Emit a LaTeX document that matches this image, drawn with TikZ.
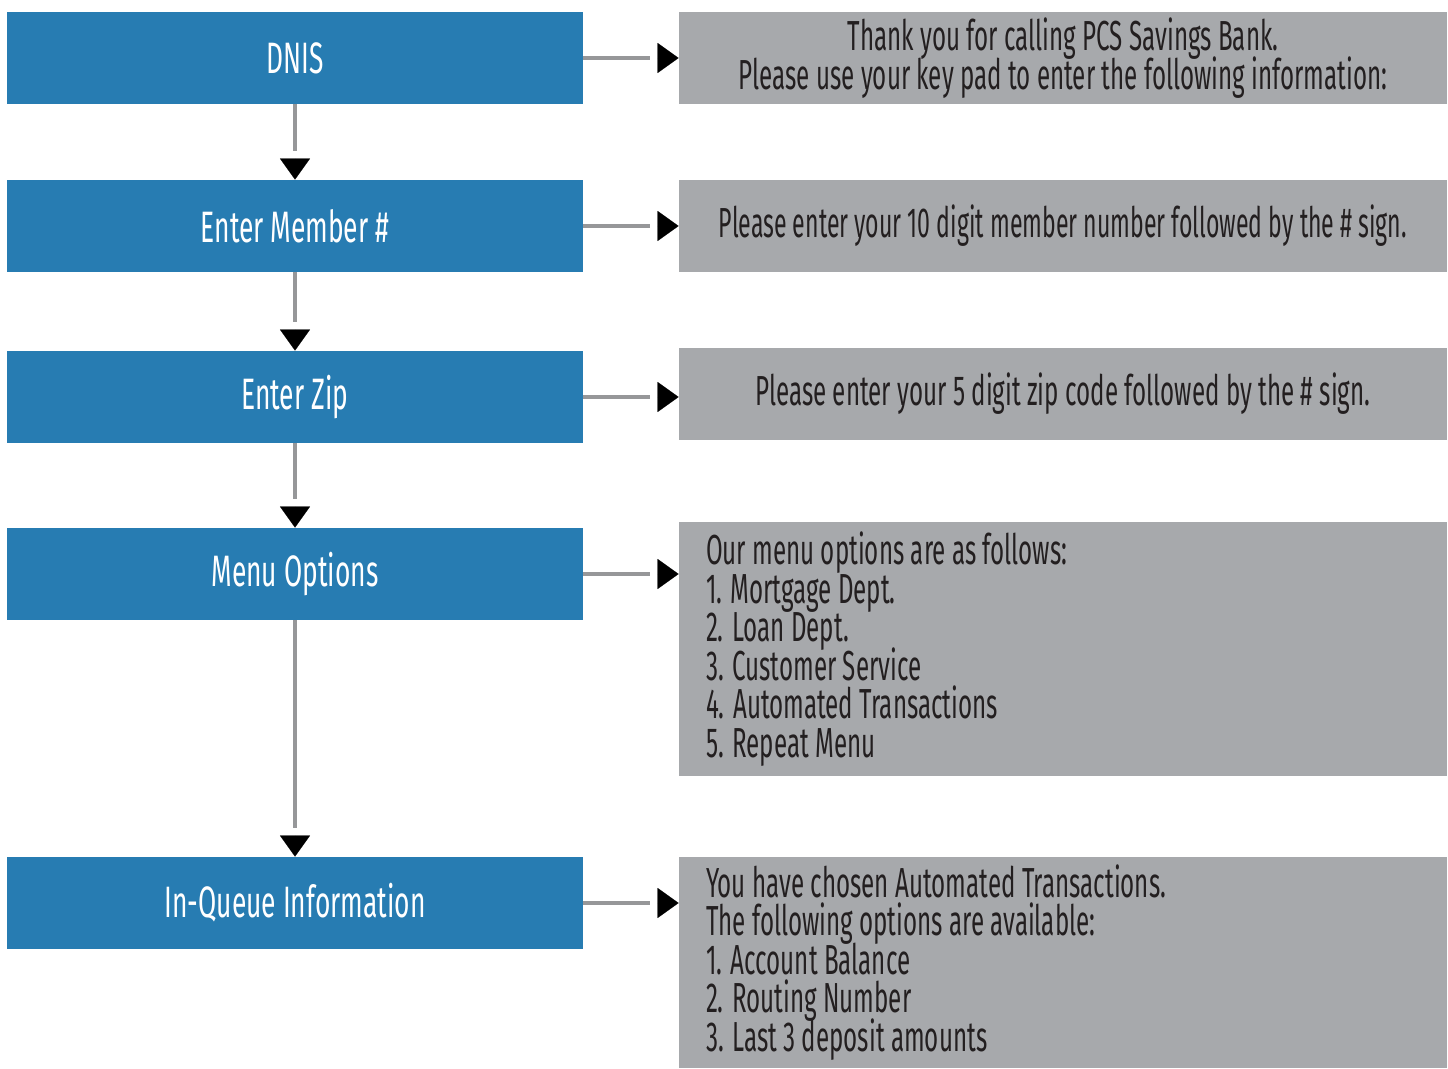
\documentclass[tikz,border=0pt]{standalone}
\usepackage{fontspec}
\setmainfont{Fira Sans}[FakeStretch=0.575]
\newfontfamily\stagefont{Fira Sans}[FakeStretch=0.6]
\newfontfamily\tightfont{Fira Sans}[FakeStretch=0.55]
\newcommand\promptsize{\fontsize{21}{19.25}\selectfont\setlength{\lineskiplimit}{-20pt}}
\usepackage{tikz}
\usetikzlibrary{arrows.meta,calc,positioning}

\definecolor{stageblue}{RGB}{39,124,178}
\definecolor{promptgray}{RGB}{167,169,172}
\definecolor{linkgray}{RGB}{150,151,153}
\definecolor{inkdark}{RGB}{35,31,32}

\begin{document}
\begin{tikzpicture}[x=0.5pt,y=-0.5pt,
    stage/.style={fill=stageblue,text=white,minimum width=288pt,minimum height=46pt,
        inner sep=0pt,font=\stagefont\fontsize{22}{20}\selectfont},
    prompt/.style={fill=promptgray,text=inkdark,minimum width=384pt,inner xsep=13.5pt,
        inner ysep=0pt,font=\promptsize},
    link/.style={draw=linkgray,line width=2pt,shorten >=14.5pt},
    tip/.style={draw=black,line width=0.1pt,
        -{Triangle[length=10.5pt,width=15pt,color=black]}}]
\useasboundingbox (0,0) rectangle (1448,1069);
% call flow steps
\node [stage] (dnis) at (295,58) {DNIS};
\node [stage] (member) at (295,226) {Enter Member \#};
\node [stage] (zip) at (295,397) {Enter Zip};
\node [stage] (menu) at (295,574) {Menu Options};
\node [stage] (queue) at (295,903) {In-Queue Information};
% what the caller hears
\node [prompt,minimum height=46pt,align=center] (dnisp) at (1063,58)
    {Thank you for calling PCS Savings Bank.\\Please use your key pad to enter the following information:};
\node [prompt,minimum height=46pt,font=\tightfont\promptsize] (memberp) at (1063,226)
    {Please enter your 10 digit member number followed by the \# sign.};
\node [prompt,minimum height=46pt] (zipp) at (1063,394)
    {Please enter your 5 digit zip code followed by the \# sign.};
\node [prompt,minimum height=127pt,text width=357pt,align=flush left] (menup) at (1063,649)
    {Our menu options are as follows:\\1. Mortgage Dept.\\2. Loan Dept.\\3. Customer Service\\4. Automated Transactions\\5. Repeat Menu};
\node [prompt,minimum height=105.5pt,text width=357pt,align=flush left] (queuep) at (1063,962.5)
    {You have chosen Automated Transactions.\\The following options are available:\\1. Account Balance\\2. Routing Number\\3. Last 3 deposit amounts};
% connectors
\foreach \a/\b in {dnis/member, member/zip, zip/menu, menu/queue} {
    \draw [link] (\a) -- (\b);
    \draw [tip] ($(\b.north)!10.5pt!(\a.south)$) -- (\b.north);
}
\foreach \a in {dnis, member, zip, menu, queue} {
    \draw [link] (\a.east) -- (\a.east -| \a p.west);
    \draw [tip] ($(\a.east -| \a p.west)!10.5pt!(\a.east)$) -- (\a.east -| \a p.west);
}
\end{tikzpicture}
\end{document}
